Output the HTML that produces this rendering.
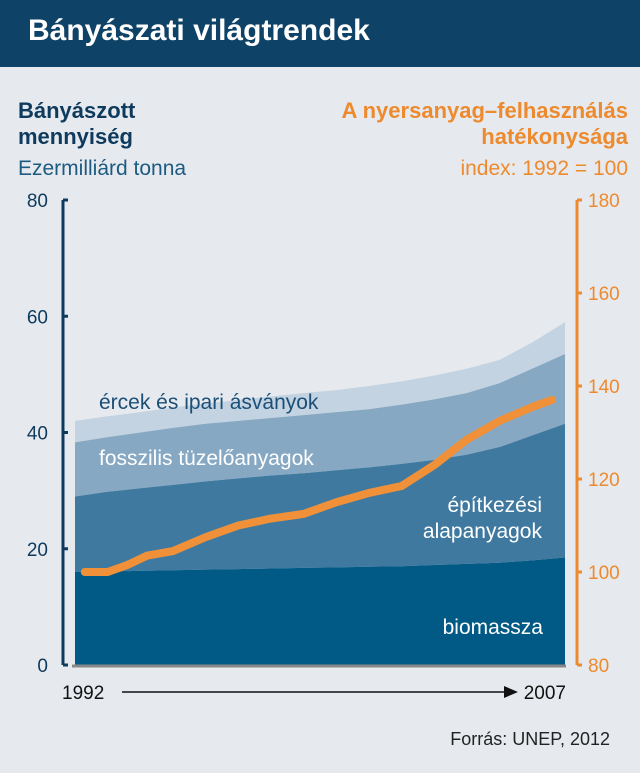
<!DOCTYPE html>
<html><head><meta charset="utf-8"><style>
body{margin:0;width:640px;height:773px;background:#e6eaee;font-family:"Liberation Sans Narrow","Liberation Sans",sans-serif;overflow:hidden;position:relative}
.hdr{position:absolute;left:0;top:0;width:640px;height:67px;background:#0e4266}
.hdr h1{margin:0;position:absolute;left:28px;top:14px;color:#fff;font-size:30px;font-weight:bold}
.t{position:absolute;white-space:nowrap}
</style></head><body>
<div class="hdr"><h1>Bányászati világtrendek</h1></div>
<div class="t" style="left:18px;top:98px;color:#0e3a5e;font-weight:bold;font-size:22px;line-height:26px">Bányászott<br>mennyiség</div>
<div class="t" style="left:18px;top:157px;color:#1d5a82;font-size:21px">Ezermilliárd tonna</div>
<div class="t" style="right:12px;top:98px;color:#ee8a2e;font-weight:bold;font-size:22px;line-height:26px;text-align:right">A nyersanyag–felhasználás<br>hatékonysága</div>
<div class="t" style="right:12px;top:157px;color:#ee8a2e;font-size:21px">index: 1992 = 100</div>
<svg id="c" width="640" height="773" style="position:absolute;left:0;top:0"></svg>
<div class="t" style="right:30px;top:729px;color:#222;font-size:18px">Forrás: UNEP, 2012</div>
<script>
const years=[1992,1993,1994,1995,1996,1997,1998,1999,2000,2001,2002,2003,2004,2005,2006,2007];
const biomass=[16,16.1,16.2,16.3,16.4,16.5,16.6,16.7,16.8,16.9,17,17.2,17.4,17.6,18,18.5];
const building=[29,29.8,30.4,31,31.6,32.1,32.6,33,33.5,34,34.6,35.3,36.2,37.5,39.5,41.5];
const fossil=[38.3,39.2,40,40.8,41.5,42,42.5,43,43.5,44,44.8,45.7,46.8,48.5,51,53.5];
const total=[42,42.8,43.5,44.3,45,45.6,46.2,46.8,47.3,48,48.8,49.8,51,52.5,55.5,59];
const effYears=[1992.3,1993,1993.6,1994.2,1995,1996,1997,1998,1999,2000,2001,2002,2003,2004,2005,2006,2006.6];
const effIndex=[100,100,101.5,103.5,104.5,107.5,110,111.5,112.5,115,117,118.5,123,128.5,132.5,135.5,137];
const leftTicks=[0,20,40,60,80];
const rightTicks=[80,100,120,140,160,180];
const NS="http://www.w3.org/2000/svg",svg=document.getElementById('c');
const X=y=>75+(y-1992)/15*490, YL=v=>665-v/80*465, YR=v=>665-(v-80)/100*465;
function mk(t,a,n){const e=document.createElementNS(NS,t);for(const k in a)e.setAttribute(k,a[k]);svg.appendChild(e);return e;}
function area(top,bot,fill,n){let d='M'+years.map((y,i)=>X(y)+','+YL(top[i])).join('L');for(let i=years.length-1;i>=0;i--)d+='L'+X(years[i])+','+(bot?YL(bot[i]):YL(0));mk('path',{d:d+'Z',fill:fill},n);}
area(total,fossil,'#c3d3e1','area-ores');
area(fossil,building,'#86a8c3','area-fossil');
area(building,biomass,'#3f79a0','area-building');
area(biomass,null,'#005a85','area-biomass');
mk('line',{x1:72,y1:666,x2:566,y2:666,stroke:'#888',"stroke-width":3},'x-baseline');
mk('line',{x1:63,y1:YL(80),x2:63,y2:YL(0),stroke:'#0e3a5e',"stroke-width":3},'left-axis');
mk('line',{x1:577,y1:YR(180),x2:577,y2:YR(80),stroke:'#ee8a2e',"stroke-width":3},'right-axis');
leftTicks.forEach(v=>{mk('line',{x1:63,y1:YL(v),x2:68,y2:YL(v),stroke:'#0e3a5e',"stroke-width":3},'left-tick');
const t=mk('text',{x:48,y:YL(v)+7,"text-anchor":"end",fill:'#0e3a5e',"font-size":19,"font-family":'"Liberation Sans Narrow","Liberation Sans",sans-serif'},'left-tick-label');t.textContent=v;});
rightTicks.forEach(v=>{mk('line',{x1:577,y1:YR(v),x2:582,y2:YR(v),stroke:'#ee8a2e',"stroke-width":3},'right-tick');
const t=mk('text',{x:588,y:YR(v)+7,fill:'#ee8a2e',"font-size":19,"font-family":'"Liberation Sans Narrow","Liberation Sans",sans-serif'},'right-tick-label');t.textContent=v;});
mk('polyline',{points:effYears.map((y,i)=>X(y)+','+YR(effIndex[i])).join(' '),fill:'none',stroke:'#f0913a',"stroke-width":8,"stroke-linejoin":"round","stroke-linecap":"round"},'efficiency-line');
const F='"Liberation Sans Narrow","Liberation Sans",sans-serif';
function txt(x,y,s,fill,n,anc,sz){const t=mk('text',{x:x,y:y,fill:fill,"font-size":sz||21,"font-family":F,"text-anchor":anc||'start'},n);t.textContent=s;}
txt(99,409,'ércek és ipari ásványok','#1b4f78','label-ores');
txt(99,465,'fosszilis tüzelőanyagok','#ffffff','label-fossil');
txt(542,512,'építkezési','#ffffff','label-building-1','end');
txt(542,538,'alapanyagok','#ffffff','label-building-2','end');
txt(543,634,'biomassza','#ffffff','label-biomass','end');
txt(62,699,'1992','#111','x-start-label','start',19);
txt(566,699,'2007','#111','x-end-label','end',19);
mk('line',{x1:122,y1:692,x2:508,y2:692,stroke:'#111',"stroke-width":1.5},'time-arrow');
mk('path',{d:'M518,692 L504,686 L504,698 Z',fill:'#111'},'time-arrow-head');
</script>
</body></html>
